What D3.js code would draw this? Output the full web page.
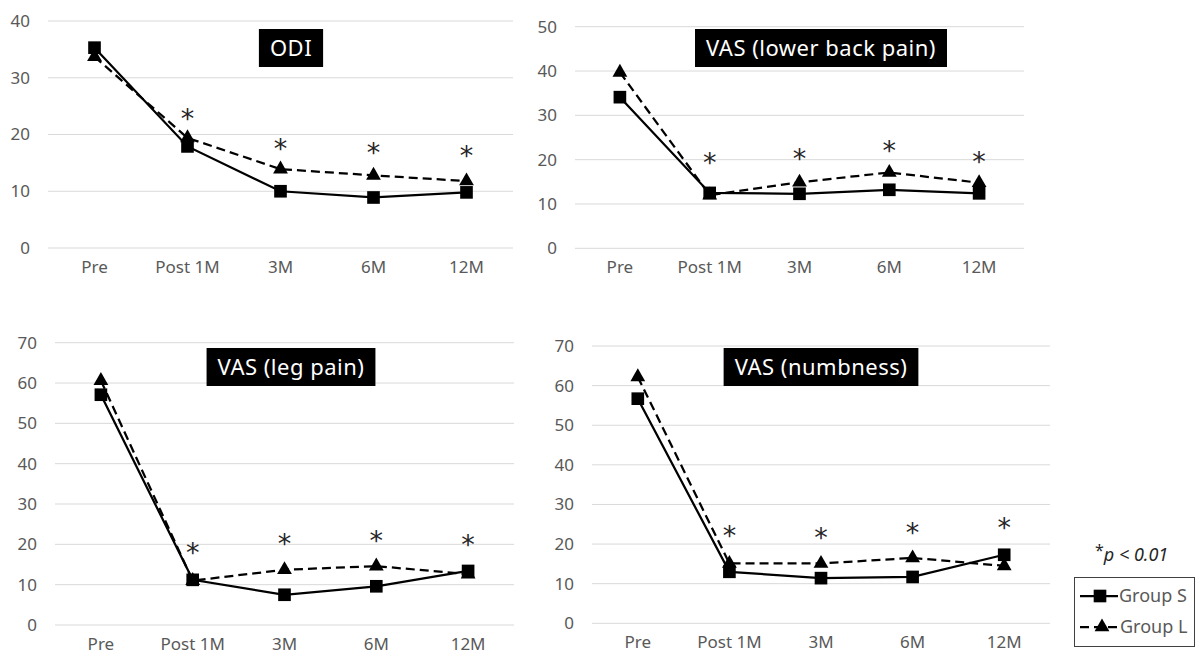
<!DOCTYPE html>
<html>
<head>
<meta charset="utf-8">
<script src="https://cdn.jsdelivr.net/npm/d3@7"></script>
<style>
  body { margin: 0; background: #fff; }
  svg { display: block; font-family: "Noto Sans", "DejaVu Sans", sans-serif; }
  .grid line { stroke: #d9d9d9; stroke-width: 1; }
  .tick-label { fill: #595959; font-size: 17px; }
  .star { fill: #262626; font-size: 27px; font-family: "DejaVu Sans", sans-serif; }
</style>
</head>
<body>
<svg id="chart" width="1202" height="654"></svg>
<script>
// categories shared by all panels
const timepoints = ["Pre", "Post 1M", "3M", "6M", "12M"]

// ODI
const odiS = [35.3, 17.9, 10.0, 8.9, 9.8]
const odiL = [33.7, 19.4, 13.9, 12.8, 11.8]
const odiStar = [null, 23.8, 18.5, 17.8, 17.3]

// VAS lower back pain
const lbpS = [34.1, 12.5, 12.3, 13.2, 12.4]
const lbpL = [39.7, 12.0, 14.9, 17.1, 14.8]
const lbpStar = [null, 20.6, 21.5, 23.3, 20.8]

// VAS leg pain
const legS = [57.1, 11.2, 7.5, 9.6, 13.4]
const legL = [60.6, 11.0, 13.7, 14.6, 12.6]
const legStar = [null, 19.4, 21.5, 22.3, 21.3]

// VAS numbness
const numS = [56.7, 13.0, 11.4, 11.7, 17.3]
const numL = [62.2, 15.1, 15.1, 16.5, 14.5]
const numStar = [null, 23.6, 23.0, 24.2, 25.5]

const titles = ["ODI", "VAS (lower back pain)", "VAS (leg pain)", "VAS (numbness)"]
const yMax = [40, 50, 70, 70]
const seriesNames = ["Group S", "Group L"]

// plot frames (pixels)
const frames = [
  {x0: 48, x1: 513, yTop: 21, yBot: 248, titleX: 291, titleY: 29},
  {x0: 575, x1: 1024, yTop: 26.7, yBot: 248.3, titleX: 821, titleY: 29},
  {x0: 55, x1: 514, yTop: 342.7, yBot: 625, titleX: 291, titleY: 348},
  {x0: 592, x1: 1050, yTop: 346, yBot: 623.3, titleX: 821, titleY: 348}
]

const panels = [
  {s: odiS, l: odiL, star: odiStar},
  {s: lbpS, l: lbpL, star: lbpStar},
  {s: legS, l: legL, star: legStar},
  {s: numS, l: numL, star: numStar}
].map((p, i) => Object.assign(p, {title: titles[i], max: yMax[i], f: frames[i]}))

const svg = d3.select('#chart')
const square = d3.symbol().type(d3.symbolSquare).size(160)
const triangle = d3.symbol().type(d3.symbolTriangle).size(95)

panels.forEach(p => {
  let f = p.f
  let x = d3.scaleBand().domain(timepoints).range([f.x0, f.x1])
  let y = d3.scaleLinear().domain([0, p.max]).range([f.yBot, f.yTop])
  let cx = d => x(d) + x.bandwidth() / 2
  let g = svg.append('g')

  let ticks = d3.range(0, p.max + 1, 10)
  g.append('g').attr('class', 'grid')
    .selectAll('line')
    .data(ticks)
    .join('line')
    .attr('x1', f.x0).attr('x2', f.x1)
    .attr('y1', d => y(d)).attr('y2', d => y(d))

  g.selectAll('.ytick')
    .data(ticks)
    .join('text')
    .attr('class', 'tick-label')
    .attr('x', f.x0 - 18)
    .attr('y', d => y(d))
    .attr('dy', '0.35em')
    .attr('text-anchor', 'end')
    .text(d => d)

  g.selectAll('.xtick')
    .data(timepoints)
    .join('text')
    .attr('class', 'tick-label')
    .attr('x', d => cx(d))
    .attr('y', f.yBot + 19)
    .attr('dy', '0.35em')
    .attr('text-anchor', 'middle')
    .text(d => d)

  let line = d3.line().x((d, i) => cx(timepoints[i])).y(d => y(d))

  g.append('path')
    .attr('d', line(p.l))
    .attr('fill', 'none')
    .attr('stroke', '#000')
    .attr('stroke-width', 2.25)
    .attr('stroke-dasharray', '9,5')

  g.append('path')
    .attr('d', line(p.s))
    .attr('fill', 'none')
    .attr('stroke', '#000')
    .attr('stroke-width', 2.25)

  g.selectAll('.tri')
    .data(p.l)
    .join('path')
    .attr('transform', (d, i) => `translate(${cx(timepoints[i])}, ${y(d)})`)
    .attr('d', triangle)
    .attr('fill', '#000')

  g.selectAll('.sq')
    .data(p.s)
    .join('path')
    .attr('transform', (d, i) => `translate(${cx(timepoints[i])}, ${y(d)})`)
    .attr('d', square)
    .attr('fill', '#000')

  g.selectAll('.star')
    .data(p.star.map((v, i) => ({v: v, t: timepoints[i]})).filter(d => d.v != null))
    .join('text')
    .attr('class', 'star')
    .attr('x', d => cx(d.t))
    .attr('y', d => y(d.v) + 15)
    .attr('text-anchor', 'middle')
    .text('*')

  // title box
  let tb = g.append('g')
  let rect = tb.append('rect').attr('fill', '#000')
  let tx = tb.append('text')
    .attr('x', f.titleX)
    .attr('y', f.titleY + 27)
    .attr('text-anchor', 'middle')
    .attr('fill', '#fff')
    .style('font-size', '22px')
    .style('letter-spacing', '0.5px')
    .text(p.title)
  let w = tx.node().getComputedTextLength()
  rect.attr('x', f.titleX - w / 2 - 11)
    .attr('y', f.titleY)
    .attr('width', w + 22)
    .attr('height', 38)
})

// significance note
let note = svg.append('text')
  .attr('x', 1095)
  .attr('y', 561)
  .attr('fill', '#262626')
  .style('font-size', '18px')
note.append('tspan').attr('dy', '-5').style('font-size', '16px').text('*')
note.append('tspan').attr('dy', '5').style('font-style', 'italic').text('p < 0.01')

// legend
let lg = svg.append('g')
lg.append('rect')
  .attr('x', 1074.5).attr('y', 577.5)
  .attr('width', 120).attr('height', 69)
  .attr('fill', '#fff')
  .attr('stroke', '#404040')
  .attr('stroke-width', 1)

let items = lg.selectAll('g.item')
  .data(seriesNames)
  .join('g')
  .attr('transform', (d, i) => `translate(1080, ${596 + i * 31})`)

items.append('line')
  .attr('x1', 0).attr('x2', 38)
  .attr('stroke', '#000')
  .attr('stroke-width', 2.25)
  .attr('stroke-dasharray', (d, i) => i ? '9,5' : null)

items.append('path')
  .attr('transform', (d, i) => `translate(${i ? 22 : 20}, 0)`)
  .attr('d', (d, i) => i ? triangle() : square())
  .attr('fill', '#000')

items.append('text')
  .attr('x', (d, i) => i ? 40 : 39)
  .attr('dy', '0.35em')
  .attr('fill', '#595959')
  .style('font-size', '18px')
  .text(d => d)
</script>
</body>
</html>
